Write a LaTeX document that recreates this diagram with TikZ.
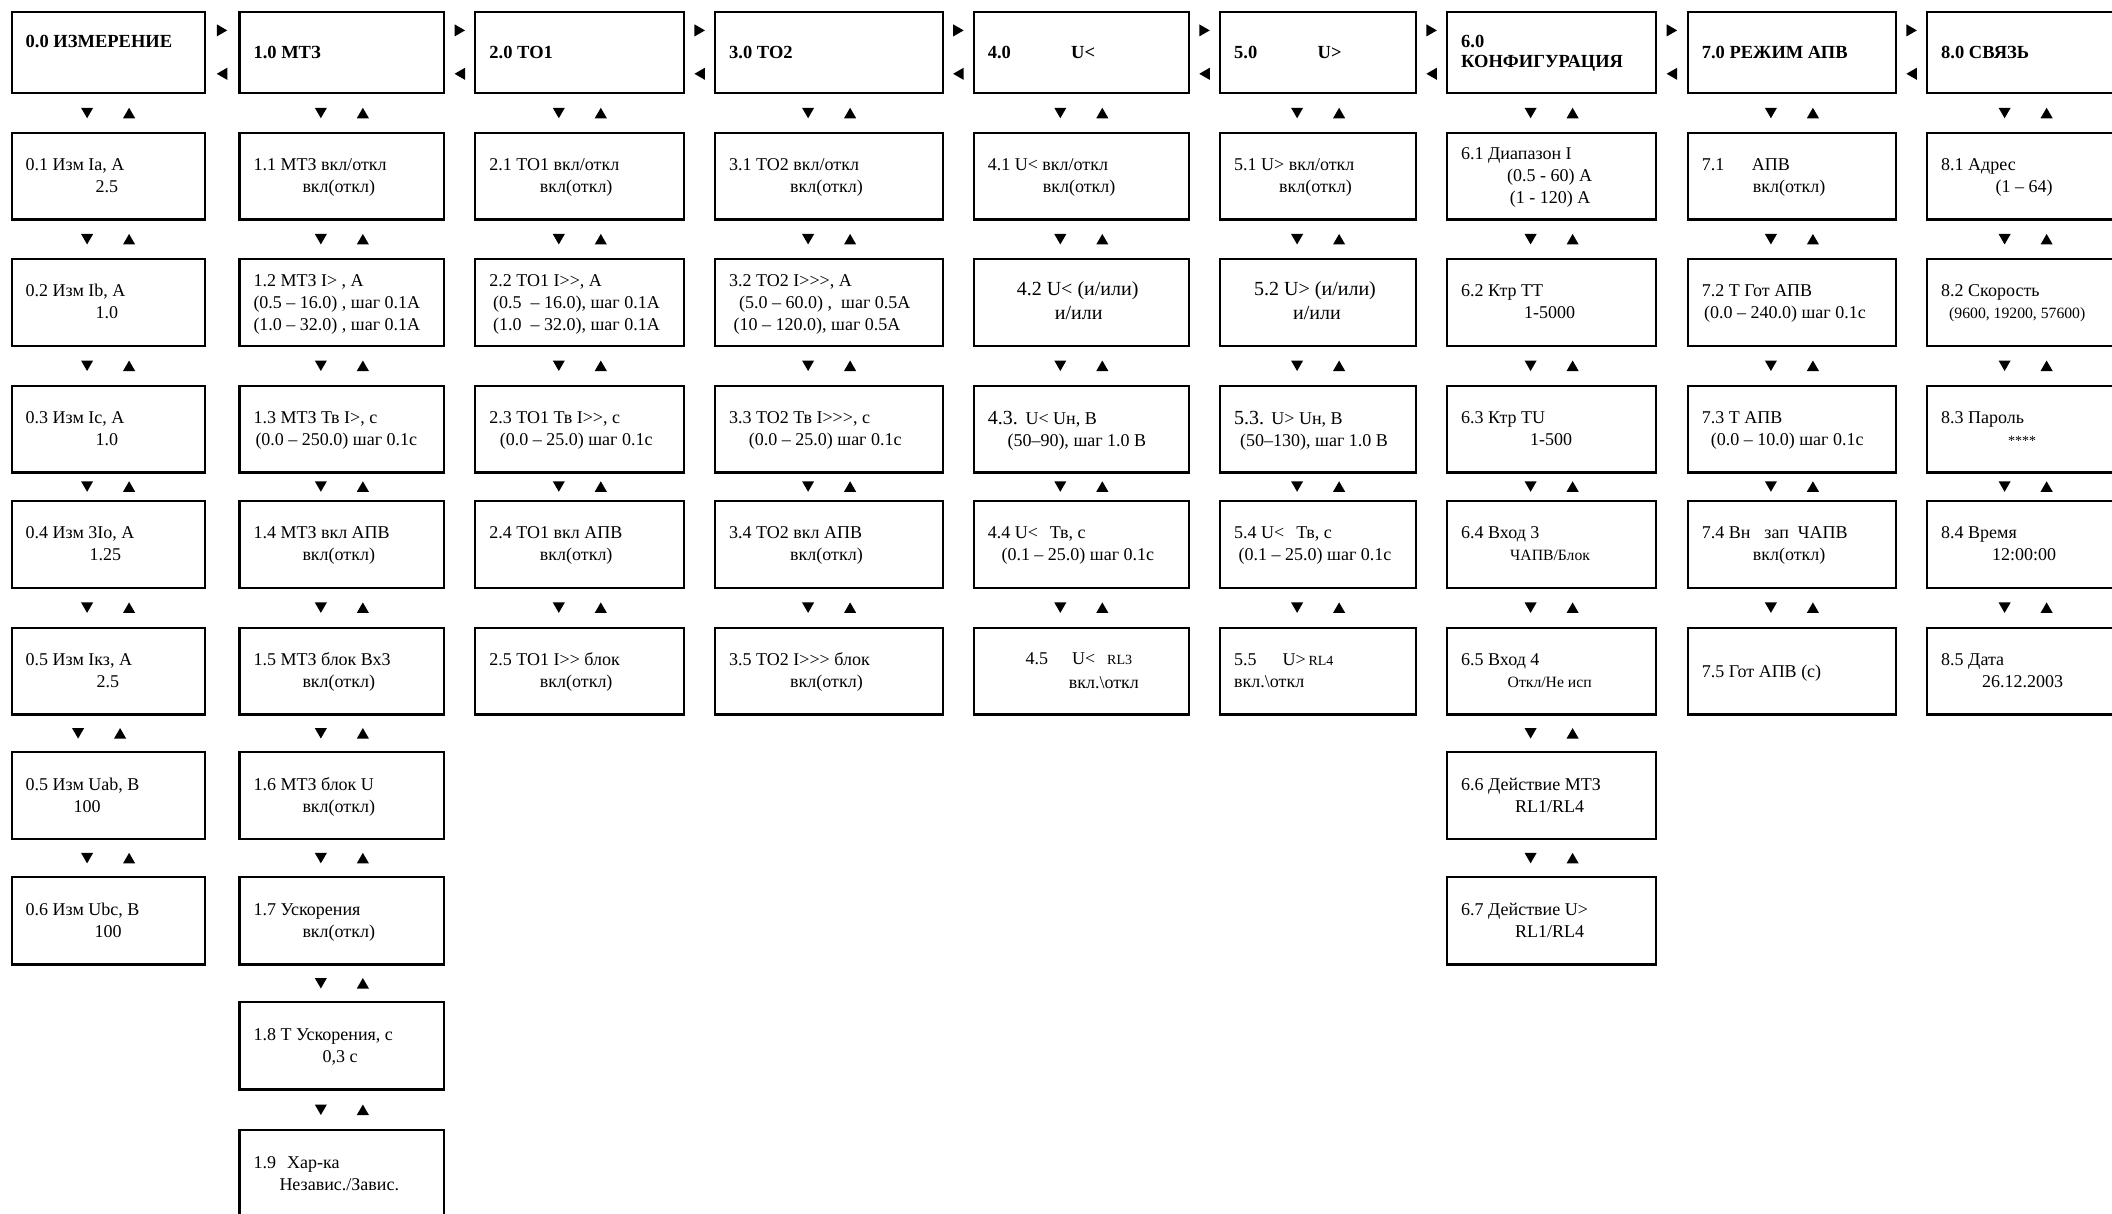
\documentclass[tikz,border=0pt]{standalone}
\usepackage{fontspec}
\setmainfont{Liberation Serif}
\usetikzlibrary{shapes.geometric,calc}
\newcommand\lines[1]{\begin{tabular}[t]{@{}l@{}}#1\end{tabular}}
\newcommand\smf[1]{{\fontsize{15.7}{17}\selectfont #1}}
\newcommand\xsf[1]{{\fontsize{14}{15}\selectfont #1}}
\newcommand\mdf[1]{{\fontsize{18}{20}\selectfont #1}}
\newcommand\bigf[1]{{\fontsize{20}{22}\selectfont #1}}
\newcommand\indt[1]{\hspace*{#1pt}}
\newcommand\putat[2]{\makebox[#1pt][l]{#2}}
\newcommand\GG{>\kern0pt>}
\newcommand\GGG{>\kern0pt>\kern0pt>}
\newcommand\defcol[3]{\expandafter\def\csname cL#1\endcsname{#2}\expandafter\def\csname cW#1\endcsname{#3}}
\newcommand\defrow[3]{\expandafter\def\csname rT#1\endcsname{#2}\expandafter\def\csname rH#1\endcsname{#3}}
\defcol{0}{10.5}{193}
\defcol{1}{238.3}{204.9}
\defcol{2}{474.2}{209}
\defcol{3}{714}{228}
\defcol{4}{972.6}{215.2}
\defcol{5}{1219}{196}
\defcol{6}{1446}{209}
\defcol{7}{1686.6}{208.4}
\defcol{8}{1926}{197}
\defrow{0}{10.8}{81.2}
\defrow{1}{131.8}{86.6}
\defrow{2}{257.8}{87}
\defrow{3}{384.5}{86.8}
\defrow{4}{499.5}{87}
\defrow{5}{626.6}{86.8}
\defrow{6}{751}{87}
\defrow{7}{876}{87.3}
\defrow{8}{1001}{87.3}
\defrow{9}{1129}{87}
\tikzset{
  mb/.style={draw, line width=2.2pt, inner sep=0pt, anchor=north west},
  tx/.style={anchor=base west, inner sep=0pt, font=\fontsize{18}{22}\selectfont},
  ttl/.style={anchor=base west, inner sep=0pt, font=\fontsize{18.5}{20.5}\selectfont\bfseries},
  tri/.style={regular polygon, regular polygon sides=3, fill=black, draw=none, inner sep=0pt, minimum size=14pt},
  dnarr/.style={tri, shape border rotate=180, yshift=1.75pt},
  uparr/.style={tri, yshift=-1.75pt},
  rtarr/.style={tri, shape border rotate=-90, xshift=-1.75pt},
  ltarr/.style={tri, shape border rotate=90, xshift=1.75pt},
}
\newcommand\BX[2]{\node[mb, minimum width=\csname cW#1\endcsname pt, minimum height=\csname rH#2\endcsname pt] (b#1#2) at (\csname cL#1\endcsname,\csname rT#2\endcsname) {};}
\newcommand\TX[3]{\node[tx] (t#1) at ([xshift=15pt,yshift=-#2pt]b#1.north west) {\lines{#3}};}
\newcommand\TTX[3]{\node[ttl] (t#1) at ([xshift=15pt,yshift=-#2pt]b#1.north west) {\lines{#3}};}
\newcommand\VV[4][0]{%
  \node[dnarr] (d#2#3) at ($(b#2#3.south)!0.5!(b#2#4.north)+(-21+#1,0)$) {};
  \node[uparr] (u#2#3) at ($(b#2#3.south)!0.5!(b#2#4.north)+(21+#1,0)$) {};}
\newcommand\HH[2]{%
  \node[rtarr] (r#1) at ($(b#10.east)!0.5!(b#20.west)+(0,-22.1)$) {};
  \node[ltarr] (l#1) at ($(b#10.east)!0.5!(b#20.west)+(0,21.3)$) {};}
\begin{document}
\begin{tikzpicture}[x=1pt,y=-1pt]
\useasboundingbox (0,0) rectangle (2112,1213);
\clip (0,0) rectangle (2112,1213);
% boxes
\BX{0}{0}\BX{1}{0}\BX{2}{0}\BX{3}{0}\BX{4}{0}\BX{5}{0}\BX{6}{0}\BX{7}{0}\BX{8}{0}
\BX{0}{1}\BX{0}{2}\BX{0}{3}\BX{0}{4}\BX{0}{5}\BX{0}{6}\BX{0}{7}
\BX{1}{1}\BX{1}{2}\BX{1}{3}\BX{1}{4}\BX{1}{5}\BX{1}{6}\BX{1}{7}\BX{1}{8}\BX{1}{9}
\BX{2}{1}\BX{2}{2}\BX{2}{3}\BX{2}{4}\BX{2}{5}
\BX{3}{1}\BX{3}{2}\BX{3}{3}\BX{3}{4}\BX{3}{5}
\BX{4}{1}\BX{4}{2}\BX{4}{3}\BX{4}{4}\BX{4}{5}
\BX{5}{1}\BX{5}{2}\BX{5}{3}\BX{5}{4}\BX{5}{5}
\BX{6}{1}\BX{6}{2}\BX{6}{3}\BX{6}{4}\BX{6}{5}\BX{6}{6}\BX{6}{7}
\BX{7}{1}\BX{7}{2}\BX{7}{3}\BX{7}{4}\BX{7}{5}
\BX{8}{1}\BX{8}{2}\BX{8}{3}\BX{8}{4}\BX{8}{5}
% titles
\TTX{00}{36.5}{0.0 ИЗМЕРЕНИЕ}
\TTX{10}{47.5}{1.0 МТЗ}
\TTX{20}{47.5}{2.0 ТО1}
\TTX{30}{47.5}{3.0 ТО2}
\TTX{40}{47.5}{\putat{83.4}{4.0}U<}
\TTX{50}{47.5}{\putat{83.5}{5.0}U>}
\TTX{60}{36.5}{6.0\\КОНФИГУРАЦИЯ}
\TTX{70}{47.5}{7.0 РЕЖИМ АПВ}
\TTX{80}{47.5}{8.0 СВЯЗЬ}
% column 0
\TX{01}{39}{0.1 Изм Ia, A\\\indt{70}2.5}
\TX{02}{39}{0.2 Изм Ib, A\\\indt{70}1.0}
\TX{03}{39}{0.3 Изм Ic, A\\\indt{70}1.0}
\TX{04}{39}{0.4 Изм 3Io, A\\\indt{64}1.25}
\TX{05}{39}{0.5 Изм Iкз, A\\\indt{71}2.5}
\TX{06}{39}{0.5 Изм Uab, В\\\indt{48}100}
\TX{07}{39}{0.6 Изм Ubc, В\\\indt{69}100}
% column 1
\TX{11}{39}{1.1 МТЗ вкл/откл\\\indt{49}вкл(откл)}
\TX{12}{28.2}{1.2 МТЗ I> , A\\(0.5 – 16.0) , шаг 0.1A\\(1.0 – 32.0) , шаг 0.1A}
\TX{13}{39}{1.3 МТЗ Тв I>, с\\\indt{2}(0.0 – 250.0) шаг 0.1с}
\TX{14}{39}{1.4 МТЗ вкл АПВ\\\indt{49}вкл(откл)}
\TX{15}{39}{1.5 МТЗ блок Вх3\\\indt{49}вкл(откл)}
\TX{16}{39}{1.6 МТЗ блок U\\\indt{49}вкл(откл)}
\TX{17}{39}{1.7 Ускорения\\\indt{49}вкл(откл)}
\TX{18}{39}{1.8 Т Ускорения, с\\\indt{69}0,3 с}
\TX{19}{39}{\putat{33.7}{1.9}Хар-ка\\\indt{26}Независ./Завис.}
% column 2
\TX{21}{39}{2.1 ТО1 вкл/откл\\\indt{50.5}вкл(откл)}
\TX{22}{28.2}{2.2 ТО1 I\GG, A\\\indt{3.7}(0.5\ \ – 16.0), шаг 0.1A\\\indt{3.7}(1.0\ \ – 32.0), шаг 0.1A}
\TX{23}{39}{2.3 ТО1 Тв I\GG, с\\\indt{10.5}(0.0 – 25.0) шаг 0.1с}
\TX{24}{39}{2.4 ТО1 вкл АПВ\\\indt{50.5}вкл(откл)}
\TX{25}{39}{2.5 ТО1 I\GG{} блок\\\indt{50.5}вкл(откл)}
% column 3
\TX{31}{39}{3.1 ТО2 вкл/откл\\\indt{61}вкл(откл)}
\TX{32}{28.2}{3.2 ТО2 I\GGG, A\\\indt{10}(5.0 – 60.0) ,\ \ шаг 0.5A\\\indt{4.5}(10 – 120.0), шаг 0.5A}
\TX{33}{39}{3.3 ТО2 Тв I\GGG, с\\\indt{19.7}(0.0 – 25.0) шаг 0.1с}
\TX{34}{39}{3.4 ТО2 вкл АПВ\\\indt{61}вкл(откл)}
\TX{35}{39}{3.5 ТО2 I\GGG{} блок\\\indt{61}вкл(откл)}
% column 4
\TX{41}{39}{4.1 U< вкл/откл\\\indt{55}вкл(откл)}
\TX{42}{37.6}{\indt{29}\bigf{4.2 U< (и/или)}\\[2pt]\indt{67}\bigf{и/или}}
\TX{43}{39.8}{\putat{37.7}{\bigf{4.3.}}\mdf{U< Uн, В}\\\indt{19.7}(50–90), шаг 1.0 В}
\TX{44}{39}{4.4 U<\hspace{12pt}Тв, с\\\indt{13.7}(0.1 – 25.0) шаг 0.1с}
\TX{45}{37.7}{\indt{37.7}\putat{46.7}{4.5}\putat{35}{U<}\xsf{RL3}\\[2pt]\indt{81}вкл.\textbackslash откл}
% column 5
\TX{51}{39}{5.1 U> вкл/откл\\\indt{45}вкл(откл)}
\TX{52}{37.6}{\indt{20}\bigf{5.2 U> (и/или)}\\[2pt]\indt{59}\bigf{и/или}}
\TX{53}{39.8}{\putat{37.2}{\bigf{5.3.}}\mdf{U> Uн, В}\\\indt{6}(50–130), шаг 1.0 В}
\TX{54}{39}{5.4 U<\hspace{12pt}Тв, с\\\indt{4.5}(0.1 – 25.0) шаг 0.1с}
\TX{55}{38.5}{\putat{48.3}{5.5}\putat{26}{U>}\xsf{RL4}\\вкл.\textbackslash откл}
% column 6
\TX{61}{27.6}{6.1 Диапазон I\\\indt{46}(0.5 - 60) A\\\indt{48.6}(1 - 120) A}
\TX{62}{39}{6.2 Ктр ТТ\\\indt{63}1-5000}
\TX{63}{39}{6.3 Ктр TU\\\indt{69}1-500}
\TX{64}{39}{6.4 Вход 3\\\indt{49}\smf{ЧАПВ/Блок}}
\TX{65}{39}{6.5 Вход 4\\\indt{46.5}\smf{Откл/Не исп}}
\TX{66}{39}{6.6 Действие МТЗ\\\indt{54}RL1/RL4}
\TX{67}{39}{6.7 Действие U>\\\indt{54}RL1/RL4}
% column 7
\TX{71}{39}{\putat{50}{7.1}АПВ\\\indt{51}вкл(откл)}
\TX{72}{39}{7.2 Т Гот АПВ\\\indt{2.3}(0.0 – 240.0) шаг 0.1с}
\TX{73}{39}{7.3 Т АПВ\\\indt{9}(0.0 – 10.0) шаг 0.1с}
\TX{74}{39}{7.4 Вн\hspace{14pt}зап\hspace{9pt}ЧАПВ\\\indt{51}вкл(откл)}
\TX{75}{51}{7.5 Гот АПВ (с)}
% column 8
\TX{81}{39}{8.1 Адрес\\\indt{54.5}(1 – 64)}
\TX{82}{39}{8.2 Скорость\\\indt{8}\smf{(9600, 19200, 57600)}}
\TX{83}{39}{8.3 Пароль\\\indt{67}\xsf{****}}
\TX{84}{39}{8.4 Время\\\indt{51}12:00:00}
\TX{85}{39}{8.5 Дата\\\indt{41}26.12.2003}
% horizontal arrows
\HH{0}{1}\HH{1}{2}\HH{2}{3}\HH{3}{4}\HH{4}{5}\HH{5}{6}\HH{6}{7}\HH{7}{8}
% vertical arrows
\VV{0}{0}{1}\VV{0}{1}{2}\VV{0}{2}{3}\VV{0}{3}{4}\VV{0}{4}{5}\VV[-9]{0}{5}{6}\VV{0}{6}{7}
\VV{1}{0}{1}\VV{1}{1}{2}\VV{1}{2}{3}\VV{1}{3}{4}\VV{1}{4}{5}\VV{1}{5}{6}\VV{1}{6}{7}\VV{1}{7}{8}\VV{1}{8}{9}
\VV{2}{0}{1}\VV{2}{1}{2}\VV{2}{2}{3}\VV{2}{3}{4}\VV{2}{4}{5}
\VV{3}{0}{1}\VV{3}{1}{2}\VV{3}{2}{3}\VV{3}{3}{4}\VV{3}{4}{5}
\VV{4}{0}{1}\VV{4}{1}{2}\VV{4}{2}{3}\VV{4}{3}{4}\VV{4}{4}{5}
\VV{5}{0}{1}\VV{5}{1}{2}\VV{5}{2}{3}\VV{5}{3}{4}\VV{5}{4}{5}
\VV{6}{0}{1}\VV{6}{1}{2}\VV{6}{2}{3}\VV{6}{3}{4}\VV{6}{4}{5}\VV{6}{5}{6}\VV{6}{6}{7}
\VV{7}{0}{1}\VV{7}{1}{2}\VV{7}{2}{3}\VV{7}{3}{4}\VV{7}{4}{5}
\VV{8}{0}{1}\VV{8}{1}{2}\VV{8}{2}{3}\VV{8}{3}{4}\VV{8}{4}{5}
\end{tikzpicture}
\end{document}
